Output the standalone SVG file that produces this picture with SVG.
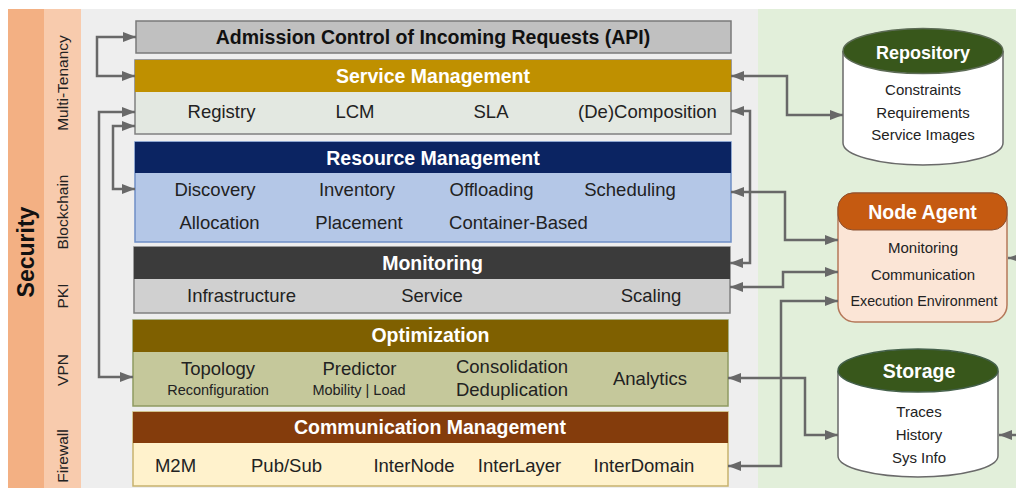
<svg xmlns="http://www.w3.org/2000/svg" width="1016" height="488" viewBox="0 0 1016 488">
  <style>
    text { font-family: "Liberation Sans", Arial, sans-serif; }
    .hd { font-size: 19.5px; font-weight: bold; fill: #ffffff; text-anchor: middle; }
    .it { font-size: 18.5px; fill: #222222; text-anchor: middle; }
    .sm { font-size: 14.5px; fill: #222222; text-anchor: middle; }
    .nd { font-size: 15px; fill: #222222; text-anchor: middle; }
    .sec { font-size: 15.5px; fill: #222222; text-anchor: middle; }
    .box { stroke-width: 1.5; }
    .wire { fill: none; stroke: #686868; stroke-width: 2.5; marker-start: url(#arr); marker-end: url(#arr); }
    .wire1 { fill: none; stroke: #686868; stroke-width: 2.5; marker-end: url(#arr); }
  </style>
  <defs>
    <marker id="arr" markerUnits="userSpaceOnUse" markerWidth="14" markerHeight="12" refX="13" refY="6" orient="auto-start-reverse">
      <path d="M0,1 L13,6 L0,11 Z" fill="#686868"/>
    </marker>
  </defs>

  <!-- backdrop bands -->
  <rect x="0" y="0" width="1016" height="488" fill="#ffffff"/>
  <rect x="8" y="9" width="36" height="479" fill="#f3b083"/>
  <rect x="44" y="9" width="37" height="479" fill="#f8cbad"/>
  <rect x="81" y="9" width="677" height="479" fill="#eeeeee"/>
  <rect x="758" y="9" width="258" height="479" fill="#e2efda"/>

  <!-- security column -->
  <g id="security">
    <text transform="translate(34,252) rotate(-90)" style="font-size:23px;font-weight:bold;fill:#111;text-anchor:middle">Security</text>
    <text class="sec" transform="translate(68,83) rotate(-90)">Multi-Tenancy</text>
    <text class="sec" transform="translate(68,212) rotate(-90)">Blockchain</text>
    <text class="sec" transform="translate(68,296) rotate(-90)">PKI</text>
    <text class="sec" transform="translate(68,370) rotate(-90)">VPN</text>
    <text class="sec" transform="translate(68,456) rotate(-90)">Firewall</text>
  </g>

  <!-- layer stack -->
  <g id="admission">
    <rect class="box" x="136" y="21" width="595" height="32" fill="#c0c0c0" stroke="#7a7a7a"/>
    <text x="433" y="44" style="font-size:19.5px;font-weight:bold;fill:#111;text-anchor:middle">Admission Control of Incoming Requests (API)</text>
  </g>

  <g id="service-management">
    <rect class="box" x="135" y="60" width="596" height="74" fill="#e3e8e1" stroke="#808080"/>
    <rect x="135" y="60" width="596" height="32" fill="#bf9000"/>
    <text class="hd" x="433" y="83">Service Management</text>
    <text class="it" x="221.5" y="118">Registry</text>
    <text class="it" x="355" y="118">LCM</text>
    <text class="it" x="491" y="118">SLA</text>
    <text class="it" x="647.5" y="118">(De)Composition</text>
  </g>

  <g id="resource-management">
    <rect class="box" x="135" y="142" width="596" height="100" fill="#b4c7e7" stroke="#6f8fc6"/>
    <rect x="135" y="142" width="596" height="31" fill="#0b2462"/>
    <text class="hd" x="433" y="164.5">Resource Management</text>
    <text class="it" x="215" y="195.5">Discovery</text>
    <text class="it" x="357" y="195.5">Inventory</text>
    <text class="it" x="491.5" y="195.5">Offloading</text>
    <text class="it" x="630" y="195.5">Scheduling</text>
    <text class="it" x="219.5" y="229">Allocation</text>
    <text class="it" x="359" y="229">Placement</text>
    <text class="it" x="518.5" y="229">Container-Based</text>
  </g>

  <g id="monitoring">
    <rect class="box" x="134" y="247" width="596" height="66" fill="#d0d0d0" stroke="#808080"/>
    <rect x="134" y="247" width="596" height="32" fill="#3b3b3b"/>
    <text class="hd" x="432.5" y="270">Monitoring</text>
    <text class="it" x="241.5" y="302">Infrastructure</text>
    <text class="it" x="432" y="302">Service</text>
    <text class="it" x="651" y="302">Scaling</text>
  </g>

  <g id="optimization">
    <rect class="box" x="133" y="320" width="595" height="86" fill="#c5c89b" stroke="#8f9a62"/>
    <rect x="133" y="320" width="595" height="32" fill="#7f6000"/>
    <text class="hd" x="430.5" y="342">Optimization</text>
    <text class="it" x="218" y="375">Topology</text>
    <text class="sm" x="218" y="395">Reconfiguration</text>
    <text class="it" x="359.5" y="375">Predictor</text>
    <text class="sm" x="359" y="395">Mobility | Load</text>
    <text class="it" x="512" y="373">Consolidation</text>
    <text class="it" x="512" y="396">Deduplication</text>
    <text class="it" x="650" y="385">Analytics</text>
  </g>

  <g id="communication-management">
    <rect class="box" x="133" y="412" width="595" height="74" fill="#fff2cc" stroke="#c7b26e"/>
    <rect x="133" y="412" width="595" height="31" fill="#843c0c"/>
    <text class="hd" x="430" y="433.5">Communication Management</text>
    <text class="it" x="175.5" y="472">M2M</text>
    <text class="it" x="286.5" y="472">Pub/Sub</text>
    <text class="it" x="414" y="472">InterNode</text>
    <text class="it" x="519.5" y="472">InterLayer</text>
    <text class="it" x="644" y="472">InterDomain</text>
  </g>

  <!-- external components -->
  <g id="repository">
    <path d="M843,51 V143 A80,22 0 0 0 1003,143 V51" fill="#ffffff" stroke="#6a6a6a" stroke-width="1.5"/>
    <ellipse cx="923" cy="51" rx="80" ry="22.5" fill="#38571b" stroke="#5c6b55" stroke-width="1.5"/>
    <text x="923" y="59" style="font-size:18px;font-weight:bold;fill:#fff;text-anchor:middle">Repository</text>
    <text class="nd" x="923" y="95">Constraints</text>
    <text class="nd" x="923" y="118">Requirements</text>
    <text class="nd" x="923" y="140">Service Images</text>
  </g>

  <g id="node-agent">
    <rect x="838" y="193" width="169" height="129" rx="17" fill="#fbe5d6" stroke="#b5785a" stroke-width="1.5"/>
    <rect x="838" y="193" width="169" height="37" rx="15" fill="#c55a11" stroke="#8a5030" stroke-width="1"/>
    <text x="922.5" y="218.5" style="font-size:19.5px;font-weight:bold;fill:#fff;text-anchor:middle">Node Agent</text>
    <text class="nd" x="923" y="253">Monitoring</text>
    <text class="nd" x="923" y="279.5">Communication</text>
    <text class="nd" x="924" y="306" style="font-size:14.3px">Execution Environment</text>
  </g>

  <g id="storage">
    <path d="M838,371 V456 A80,21 0 0 0 998,456 V371" fill="#ffffff" stroke="#6a6a6a" stroke-width="1.5"/>
    <ellipse cx="918" cy="370.5" rx="80" ry="21.5" fill="#38571b" stroke="#44604a" stroke-width="1.5"/>
    <text x="919" y="377.5" style="font-size:19.5px;font-weight:bold;fill:#fff;text-anchor:middle">Storage</text>
    <text class="nd" x="919" y="417">Traces</text>
    <text class="nd" x="919" y="440">History</text>
    <text class="nd" x="919" y="462.5">Sys Info</text>
  </g>

  <!-- connectors -->
  <g id="connectors">
    <path class="wire" d="M136,37 H97 V76 H135"/>
    <path class="wire" d="M135,112 H99 V377 H133"/>
    <path class="wire" d="M135,126 H113 V189 H135"/>
    <path class="wire" d="M731,76 H787 V115 H843"/>
    <path class="wire" d="M731,111 H750 V263 H730"/>
    <path class="wire" d="M731,192 H785 V240 H838"/>
    <path class="wire" d="M730,287 H783 V272 H838"/>
    <path class="wire" d="M728,466 H781 V301 H838"/>
    <path class="wire" d="M728,378 H805 V435 H838"/>
    <path class="wire1" d="M1022,258 H1008"/>
    <path class="wire1" d="M1018,435 H999"/>
  </g>
</svg>
